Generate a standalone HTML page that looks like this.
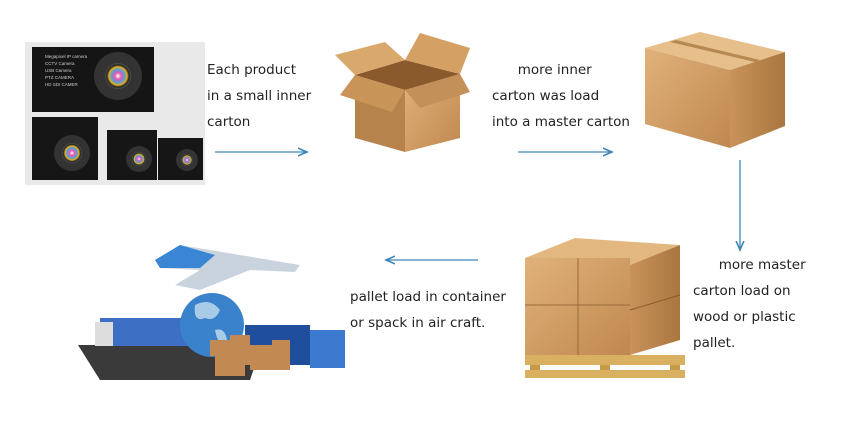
<!DOCTYPE html>
<html><head><style>
body{margin:0;width:856px;height:440px;background:#fff;overflow:hidden;position:relative;font-family:"DejaVu Sans","Liberation Sans",sans-serif;}
.t{position:absolute;font-size:13.5px;color:#222;line-height:26px;white-space:nowrap}
svg{position:absolute;left:0;top:0}
</style></head><body>
<svg width="856" height="440" viewBox="0 0 856 440">
<defs>
<radialGradient id="lens" cx="50%" cy="50%" r="50%"><stop offset="0" stop-color="#fff"/><stop offset="0.25" stop-color="#e85ab0"/><stop offset="0.5" stop-color="#5a9ad8"/><stop offset="0.7" stop-color="#e0b020"/><stop offset="0.85" stop-color="#222"/><stop offset="1" stop-color="#555"/></radialGradient>
<linearGradient id="card" x1="0" y1="0" x2="1" y2="1"><stop offset="0" stop-color="#e0b27a"/><stop offset="1" stop-color="#c08850"/></linearGradient>
<linearGradient id="cards" x1="0" y1="0" x2="1" y2="0"><stop offset="0" stop-color="#c9935a"/><stop offset="1" stop-color="#a9763f"/></linearGradient>
<marker id="ar" markerWidth="8" markerHeight="8" refX="7" refY="4" orient="auto"><path d="M0,1 L7,4 L0,7" fill="none" stroke="#3d86b8" stroke-width="1.2"/></marker>
</defs>
<!-- cameras -->
<rect x="25" y="42" width="180" height="143" fill="#e9e9e9"/>
<rect x="32" y="47" width="122" height="65" fill="#151515"/>
<circle cx="118" cy="76" r="24" fill="#333"/><circle cx="118" cy="76" r="13" fill="url(#lens)"/>
<rect x="32" y="117" width="66" height="63" fill="#161616"/>
<circle cx="72" cy="153" r="18" fill="#333"/><circle cx="72" cy="153" r="10" fill="url(#lens)"/>
<rect x="107" y="130" width="50" height="50" fill="#161616"/>
<circle cx="139" cy="159" r="13" fill="#333"/><circle cx="139" cy="159" r="7" fill="url(#lens)"/>
<rect x="158" y="138" width="45" height="42" fill="#161616"/>
<circle cx="187" cy="160" r="11" fill="#333"/><circle cx="187" cy="160" r="6" fill="url(#lens)"/>
<g fill="#ccc" font-size="4.5" font-family="Liberation Sans"><text x="45" y="58">Megapixel IP camera</text><text x="45" y="65">CCTV Camera</text><text x="45" y="72">USB Camera</text><text x="45" y="79">PTZ CAMERA</text><text x="45" y="86">HD SDI CAMER</text></g>
<!-- arrows -->
<line x1="215" y1="152" x2="307" y2="152" stroke="#3d86b8" stroke-width="1.3" marker-end="url(#ar)"/>
<line x1="518" y1="152" x2="612" y2="152" stroke="#3d86b8" stroke-width="1.3" marker-end="url(#ar)"/>
<line x1="740" y1="160" x2="740" y2="250" stroke="#3d86b8" stroke-width="1.3" marker-end="url(#ar)"/>
<line x1="478" y1="260" x2="386" y2="260" stroke="#3d86b8" stroke-width="1.3" marker-end="url(#ar)"/>
<!-- open box -->
<polygon points="355,75 405,90 405,152 355,138" fill="#b7834c"/>
<polygon points="405,90 460,74 460,138 405,152" fill="url(#card)"/>
<polygon points="355,75 405,60 460,74 405,90" fill="#8a5a2c"/>
<polygon points="355,75 335,55 385,42 405,60" fill="#d9a86c"/>
<polygon points="405,60 420,33 470,48 460,74" fill="#d4a064"/>
<polygon points="355,75 340,95 392,112 405,90" fill="#c99458"/>
<polygon points="460,74 470,92 420,108 405,90" fill="#c4905a"/>
<!-- closed box -->
<polygon points="645,48 700,32 785,52 730,70" fill="#e6bf8a"/>
<polygon points="645,48 730,70 730,148 645,124" fill="url(#card)"/>
<polygon points="730,70 785,52 785,126 730,148" fill="url(#cards)"/>
<polygon points="670,42 755,62 760,60 676,40" fill="#b88852"/>
<!-- pallet -->
<g>
<polygon points="525,258 575,238 680,245 630,265" fill="#e2b880"/>
<rect x="525" y="258" width="105" height="97" fill="url(#card)"/>
<polygon points="630,265 680,245 680,340 630,355" fill="url(#cards)"/>
<line x1="578" y1="258" x2="578" y2="355" stroke="#9a6a38"/>
<line x1="525" y1="305" x2="630" y2="305" stroke="#9a6a38"/>
<line x1="630" y1="310" x2="680" y2="295" stroke="#8a5a30"/>
<rect x="525" y="355" width="160" height="10" fill="#d8b060"/>
<rect x="530" y="365" width="150" height="5" fill="#fff"/>
<rect x="530" y="365" width="10" height="5" fill="#c89a48"/><rect x="600" y="365" width="10" height="5" fill="#c89a48"/><rect x="670" y="365" width="10" height="5" fill="#c89a48"/>
<rect x="525" y="370" width="160" height="8" fill="#d8b060"/>
</g>
<!-- logistics -->
<polygon points="78,345 100,380 250,380 262,345" fill="#3a3a3a"/>
<rect x="100" y="318" width="120" height="28" fill="#3d6fc4"/>
<rect x="95" y="322" width="18" height="24" fill="#ddd"/>
<circle cx="212" cy="325" r="32" fill="#3a82cc"/>
<path d="M195,305 q15,-8 25,5 q-5,12 -15,8 q-12,5 -10,-13z M215,330 q10,-3 12,10 q-8,10 -12,-10z" fill="#a8cce8"/>
<rect x="245" y="325" width="65" height="40" fill="#1f4e9c"/>
<rect x="310" y="330" width="35" height="38" fill="#3c7ad0"/>
<g fill="#c28a52"><rect x="210" y="340" width="20" height="16"/><rect x="230" y="335" width="20" height="30"/><rect x="250" y="345" width="22" height="25"/><rect x="272" y="340" width="18" height="30"/><rect x="215" y="356" width="30" height="20"/></g>
<polygon points="155,260 180,245 300,265 295,272 250,270 200,290 175,285 200,270 160,268" fill="#c9d3de"/>
<polygon points="155,260 180,245 215,255 200,268 160,268" fill="#3a86d4"/>
</svg>
<div class="t" style="left:207px;top:57px">Each product<br>in a small inner<br>carton</div>
<div class="t" style="left:492px;top:57px">&nbsp;&nbsp;&nbsp;&nbsp;&nbsp;&nbsp;more inner<br>carton was load<br>into a master carton</div>
<div class="t" style="left:693px;top:252px">&nbsp;&nbsp;&nbsp;&nbsp;&nbsp;&nbsp;more master<br>carton load on<br>wood or plastic<br>pallet.</div>
<div class="t" style="left:350px;top:284px">pallet load in container<br>or spack in air craft.</div>
</body></html>
